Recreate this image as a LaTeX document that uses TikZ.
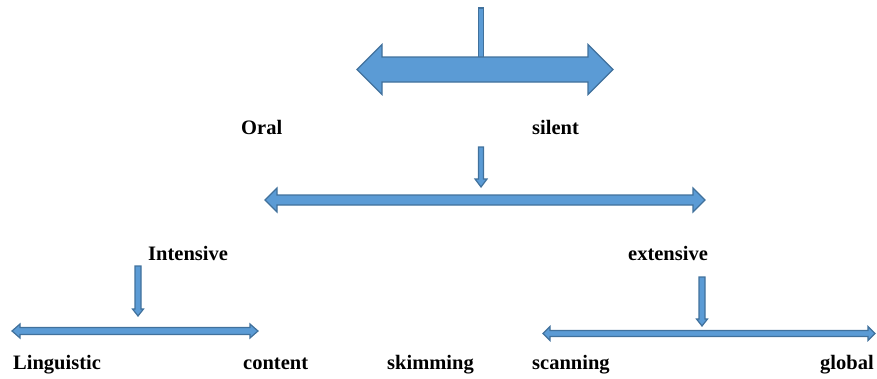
\documentclass[tikz,border=0pt]{standalone}
\usepackage{fontspec}
\setmainfont{Liberation Serif}
\definecolor{arrowfill}{HTML}{5B9BD5}
\definecolor{arrowline}{HTML}{41719C}
\tikzset{
	blockarrow/.style={fill=arrowfill,draw=arrowline,line width=1.2pt,line join=miter},
	lab/.style={anchor=base west,inner sep=0pt,font=\fontsize{20.5}{24}\selectfont\bfseries}
}
% left tip, right tip, y, shaft half, head half, head length
\newcommand{\dblarr}[6]{\filldraw[blockarrow] (#1,#3)--({#1+#6},{#3-#5})--({#1+#6},{#3-#4})--({#2-#6},{#3-#4})--({#2-#6},{#3-#5})--(#2,#3)--({#2-#6},{#3+#5})--({#2-#6},{#3+#4})--({#1+#6},{#3+#4})--({#1+#6},{#3+#5})--cycle;}
% x, top, tip, shaft half, head half, head length
\newcommand{\downarr}[6]{\filldraw[blockarrow] ({#1-#4},#2)--({#1+#4},#2)--({#1+#4},{#3-#6})--({#1+#5},{#3-#6})--(#1,#3)--({#1-#5},{#3-#6})--({#1-#4},{#3-#6})--cycle;}
\begin{document}
\begin{tikzpicture}[x=1pt,y=-1pt]
			\useasboundingbox (0,0) rectangle (877,378);
			\filldraw[blockarrow] (478.5,8) rectangle (483.5,58);
			\dblarr{357}{613}{69.5}{12.5}{25}{25}
			\downarr{481}{147}{187}{2.5}{6}{8}
			\dblarr{265}{705}{200}{5}{12}{12}
			\downarr{138}{266}{316}{3}{5.5}{7}
			\dblarr{12}{258}{331}{3.5}{7}{8}
			\downarr{702}{277}{326}{3}{5.5}{7}
			\dblarr{543}{875}{333.5}{3}{7}{7}
			\node[lab] (oral) at (241,134) {Oral};
			\node[lab] (silent) at (532,134) {silent};
			\node[lab] (intensive) at (148,260) {Intensive};
			\node[lab] (extensive) at (628,260) {extensive};
			\foreach \nm/\x/\txt in {linguistic/13/Linguistic,content/243/content,skimming/387/skimming,scanning/532/scanning,global/820/global}
			\node[lab] (\nm) at (\x,369) {\txt};
		\end{tikzpicture}
\end{document}
